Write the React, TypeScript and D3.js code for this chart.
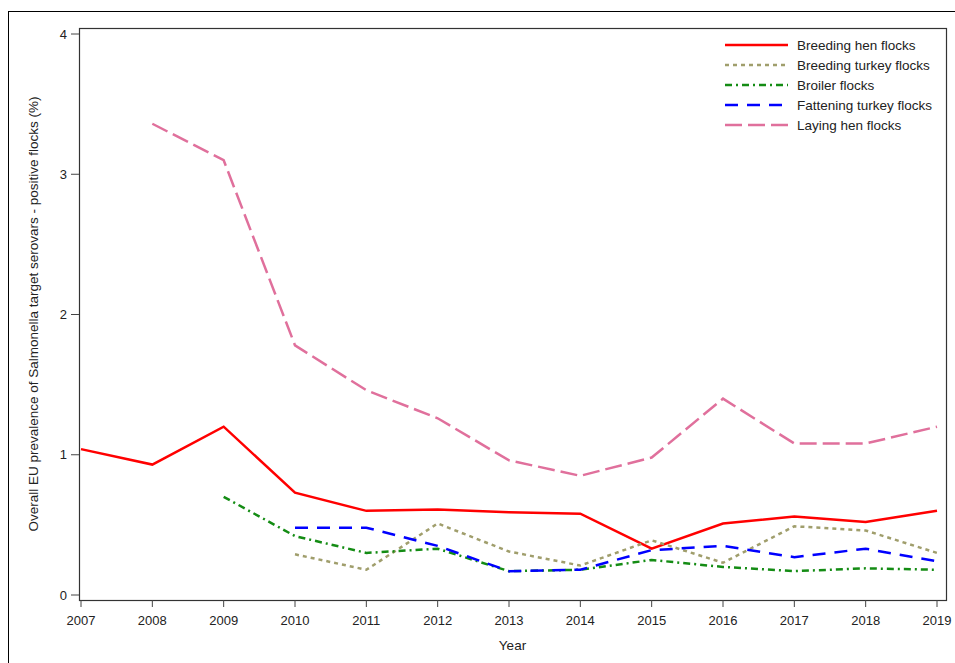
import React from "react";
import * as d3 from "d3";

const years = [2007, 2008, 2009, 2010, 2011, 2012, 2013, 2014, 2015, 2016, 2017, 2018, 2019];
const breedingHen = [1.04, 0.93, 1.2, 0.73, 0.6, 0.61, 0.59, 0.58, 0.33, 0.51, 0.56, 0.52, 0.6];
const breedingTurkey = [null, null, null, 0.29, 0.18, 0.51, 0.31, 0.21, 0.39, 0.23, 0.49, 0.46, 0.3];
const broiler = [null, null, 0.7, 0.42, 0.3, 0.33, 0.17, 0.18, 0.25, 0.2, 0.17, 0.19, 0.18];
const fatteningTurkey = [null, null, null, 0.48, 0.48, 0.35, 0.17, 0.18, 0.32, 0.35, 0.27, 0.33, 0.24];
const layingHen = [null, 3.36, 3.1, 1.78, 1.46, 1.26, 0.96, 0.85, 0.98, 1.4, 1.08, 1.08, 1.2];
const yTicks = [0, 1, 2, 3, 4];

const seriesNames = ["Breeding hen flocks", "Breeding turkey flocks", "Broiler flocks", "Fattening turkey flocks", "Laying hen flocks"];
const seriesValues = [breedingHen, breedingTurkey, broiler, fatteningTurkey, layingHen];
const seriesColors = ["#ff0000", "#a09e6c", "#148c14", "#0000ff", "#e0709c"];
const seriesDash = ["none", "4,4", "7,4,2,4", "13,9", "17,6"];

export default function App() {
  const left = 79, right = 946, top = 28, bottom = 600;
  const x = d3.scaleLinear().domain([2007, 2019]).range([81, 937]);
  const y = d3.scaleLinear().domain([0, 4]).range([595, 34]);
  const font = "'Liberation Sans', Arial, sans-serif";

  const line = d3
    .line<[number, number | null]>()
    .defined((d) => d[1] !== null)
    .x((d) => x(d[0]))
    .y((d) => y(d[1] as number));

  return (
    <svg width={955} height={663} style={{ position: "absolute", left: 0, top: 0, background: "#fff" }} fontFamily={font}>
      <rect x={8.5} y={11.5} width={1000} height={700} fill="none" stroke="#000" strokeWidth={1} />
      <rect x={left + 0.5} y={top + 0.5} width={right - left} height={bottom - top} fill="#fff" stroke="#333" strokeWidth={1.2} />

      {yTicks.map((t) => (
        <g key={"y" + t}>
          <line x1={71} x2={left} y1={y(t)} y2={y(t)} stroke="#444" />
          <text x={67} y={y(t)} dy="0.35em" textAnchor="end" fontSize={13} fill="#222">
            {t}
          </text>
        </g>
      ))}
      {years.map((yr) => (
        <g key={"x" + yr}>
          <line x1={x(yr)} x2={x(yr)} y1={bottom} y2={607} stroke="#444" />
          <text x={x(yr)} y={625} textAnchor="middle" fontSize={13} fill="#222">
            {yr}
          </text>
        </g>
      ))}

      <text x={(left + right) / 2} y={650} textAnchor="middle" fontSize={13.5} fill="#222">
        Year
      </text>
      <text
        transform={`translate(38, ${(top + bottom) / 2}) rotate(-90)`}
        textAnchor="middle"
        fontSize={13.5}
        fill="#222"
      >
        Overall EU prevalence of Salmonella target serovars - positive flocks (%)
      </text>

      {seriesValues.map((vals, i) => (
        <path
          key={"s" + i}
          d={line(years.map((yr, j) => [yr, vals[j]] as [number, number | null])) || ""}
          fill="none"
          stroke={seriesColors[i]}
          strokeWidth={2.5}
          strokeDasharray={seriesDash[i]}
        />
      ))}

      {seriesNames.map((name, i) => (
        <g key={"l" + i} transform={`translate(0, ${45 + i * 20})`}>
          <line x1={725} x2={788} y1={0} y2={0} stroke={seriesColors[i]} strokeWidth={2.5} strokeDasharray={seriesDash[i]} />
          <text x={797} y={0} dy="0.35em" fontSize={13.5} fill="#222">
            {name}
          </text>
        </g>
      ))}
    </svg>
  );
}
